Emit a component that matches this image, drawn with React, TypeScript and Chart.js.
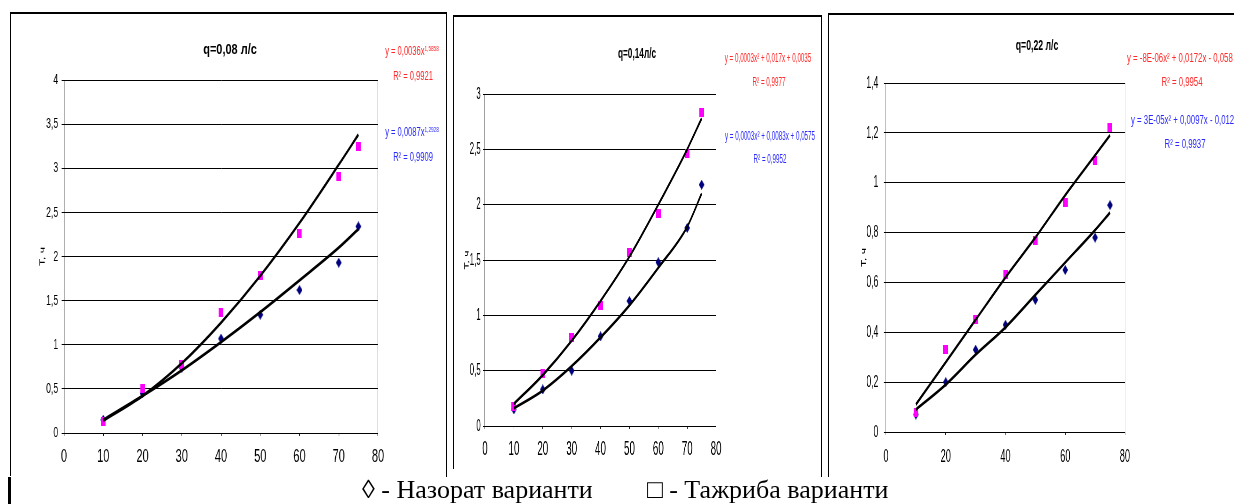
import React, { useEffect, useRef } from 'react';
import { Chart, registerables } from 'chart.js';

Chart.register(...registerables);

// ---------------- data ----------------
const X_VALUES = [10, 20, 30, 40, 50, 60, 70, 75];

// q = 0,08 l/s
const Q08_CONTROL = [0.15, 0.45, 0.74, 1.07, 1.34, 1.62, 1.93, 2.34];
const Q08_TRIAL = [0.13, 0.5, 0.78, 1.36, 1.78, 2.26, 2.91, 3.25];
const Q08_CONTROL_TREND = [0.15, 0.42, 0.71, 1.03, 1.37, 1.73, 2.1, 2.31];
const Q08_TRIAL_TREND = [0.14, 0.42, 0.79, 1.25, 1.78, 2.38, 3.04, 3.38];

// q = 0,14 l/s
const Q14_CONTROL = [0.15, 0.33, 0.5, 0.81, 1.13, 1.48, 1.79, 2.18];
const Q14_TRIAL = [0.18, 0.47, 0.8, 1.09, 1.57, 1.92, 2.46, 2.83];
const Q14_CONTROL_TREND = [0.16, 0.32, 0.54, 0.8, 1.09, 1.43, 1.8, 2.1];
const Q14_TRIAL_TREND = [0.2, 0.46, 0.77, 1.13, 1.53, 2.0, 2.5, 2.78];

// q = 0,22 l/s
const Q22_CONTROL = [0.07, 0.2, 0.33, 0.43, 0.53, 0.65, 0.78, 0.91];
const Q22_TRIAL = [0.08, 0.33, 0.45, 0.63, 0.77, 0.92, 1.09, 1.22];
const Q22_CONTROL_TREND = [0.09, 0.19, 0.31, 0.42, 0.55, 0.68, 0.81, 0.88];
const Q22_TRIAL_TREND = [0.11, 0.28, 0.45, 0.62, 0.78, 0.95, 1.11, 1.19];

// tick labels
const X_TICKS_10 = ['0', '10', '20', '30', '40', '50', '60', '70', '80'];
const X_TICKS_20 = ['0', '20', '40', '60', '80'];
const Y_TICKS_Q08 = ['0', '0,5', '1', '1,5', '2', '2,5', '3', '3,5', '4'];
const Y_TICKS_Q14 = ['0', '0,5', '1', '1,5', '2', '2,5', '3'];
const Y_TICKS_Q22 = ['0', '0,2', '0,4', '0,6', '0,8', '1', '1,2', '1,4'];

const TITLES = ['q=0,08 л/с', 'q=0,14л/с', 'q=0,22 л/с'];
const Y_TITLE = 'Т, ч';
const CAPTION_CONTROL = '◊ - Назорат варианти';
const CAPTION_TRIAL = '□ - Тажриба варианти';

// ---------------- styling ----------------
const FONT = '"Liberation Sans", Arial, sans-serif';
const PINK = '#ff00ff';
const NAVY = '#00007f';
const RED = '#ff2a2a';
const BLUE = '#2a2aff';

type PanelCfg = {
  s: number;
  cl: number; ct: number; cw: number; ch: number;
  al: number; ar: number; at: number; ab: number;
  yMax: number; yStep: number; xStep: number;
  yF: number; xF: number; xLabelCenter: number; yPad: number; yTitleX: number;
  xTicks: string[]; yTicks: string[];
  control: number[]; trial: number[]; controlTrend: number[]; trialTrend: number[];
};

const PANELS: PanelCfg[] = [
  {
    s: 0.58, cl: 11, ct: 14, cw: 435, ch: 462, al: 64, ar: 378, at: 80, ab: 433,
    yMax: 4, yStep: 0.5, xStep: 10, yF: 15, xF: 19, xLabelCenter: 457, yPad: 6, yTitleX: 43,
    xTicks: X_TICKS_10, yTicks: Y_TICKS_Q08,
    control: Q08_CONTROL, trial: Q08_TRIAL, controlTrend: Q08_CONTROL_TREND, trialTrend: Q08_TRIAL_TREND,
  },
  {
    s: 0.47, cl: 454, ct: 17, cw: 367, ch: 460, al: 485, ar: 716, at: 94, ab: 426,
    yMax: 3, yStep: 0.5, xStep: 10, yF: 17, xF: 21, xLabelCenter: 449, yPad: 5, yTitleX: 467,
    xTicks: X_TICKS_10, yTicks: Y_TICKS_Q14,
    control: Q14_CONTROL, trial: Q14_TRIAL, controlTrend: Q14_CONTROL_TREND, trialTrend: Q14_TRIAL_TREND,
  },
  {
    s: 0.51, cl: 829, ct: 15, cw: 405, ch: 462, al: 886, ar: 1125, at: 83, ab: 432,
    yMax: 1.4, yStep: 0.2, xStep: 20, yF: 17, xF: 18, xLabelCenter: 456.7, yPad: 11, yTitleX: 864,
    xTicks: X_TICKS_20, yTicks: Y_TICKS_Q22,
    control: Q22_CONTROL, trial: Q22_TRIAL, controlTrend: Q22_CONTROL_TREND, trialTrend: Q22_TRIAL_TREND,
  },
];

function makeRectMarker(w: number, h: number, color: string) {
  const c = document.createElement('canvas');
  c.width = Math.round(w);
  c.height = Math.round(h);
  const g = c.getContext('2d')!;
  g.fillStyle = color;
  g.fillRect(0, 0, c.width, c.height);
  return c;
}

function makeDiamondMarker(w: number, h: number, color: string) {
  const c = document.createElement('canvas');
  c.width = Math.round(w);
  c.height = Math.round(h);
  const g = c.getContext('2d')!;
  g.fillStyle = color;
  g.beginPath();
  g.moveTo(c.width / 2, 0);
  g.lineTo(c.width, c.height / 2);
  g.lineTo(c.width / 2, c.height);
  g.lineTo(0, c.height / 2);
  g.closePath();
  g.fill();
  return c;
}

function Panel({ cfg }: { cfg: PanelCfg }) {
  const ref = useRef<HTMLCanvasElement>(null);
  const preW = Math.round(cfg.cw / cfg.s);
  useEffect(() => {
    const canvas = ref.current!;
    const s = cfg.s;
    const yAxisW = (cfg.al - cfg.cl) / s;
    const rightPad = (cfg.cl + cfg.cw - cfg.ar) / s;
    const topPad = cfg.at - cfg.ct;
    const xAxisH = cfg.ct + cfg.ch - cfg.ab;
    const xTickLen = 3;
    const xLineH = cfg.xF * 1.2;
    const xPad = cfg.xLabelCenter - cfg.ab - xTickLen - xLineH / 2;
    const titleSize = 12;
    const titleOffset = (cfg.yTitleX - cfg.cl) / s;
    const titlePadTop = titleOffset - (titleSize * 1.2) / 2;

    const pts = (ys: number[]) => X_VALUES.map((x, i) => ({ x, y: ys[i] }));
    const square = makeRectMarker(4.8 / s, 9, PINK);
    const diamond = makeDiamondMarker(5.6 / s, 10, NAVY);

    const trendBase = {
      showLine: true,
      borderColor: '#000',
      borderWidth: 3,
      pointRadius: 0,
      tension: 0.4,
      cubicInterpolationMode: 'monotone' as const,
      fill: false,
      order: 0,
    };

    const chart = new Chart(canvas, {
      type: 'scatter',
      data: {
        datasets: [
          { ...trendBase, label: 'trial trend', data: pts(cfg.trialTrend) },
          { ...trendBase, label: 'control trend', data: pts(cfg.controlTrend) },
          { label: 'Тажриба варианти', data: pts(cfg.trial), pointStyle: square as any, pointRadius: 4, order: 1 },
          { label: 'Назорат варианти', data: pts(cfg.control), pointStyle: diamond as any, pointRadius: 4, order: 1 },
        ],
      },
      options: {
        responsive: false,
        animation: false,
        devicePixelRatio: 1,
        layout: { padding: { left: 0, top: topPad, right: rightPad, bottom: 0 } },
        plugins: { legend: { display: false }, tooltip: { enabled: false }, title: { display: false } },
        scales: {
          x: {
            type: 'linear',
            min: 0,
            max: 80,
            ticks: {
              stepSize: cfg.xStep,
              autoSkip: false,
              maxRotation: 0,
              color: '#000',
              padding: xPad,
              font: { family: FONT, size: cfg.xF },
              callback: (_v: any, i: number) => cfg.xTicks[i],
            },
            grid: {
              drawOnChartArea: true,
              color: (ctx: any) => (ctx.tick && ctx.tick.value === 80 ? '#a8a8a8' : 'rgba(0,0,0,0)'),
              tickColor: '#000',
              tickLength: xTickLen,
              lineWidth: 1,
            },
            border: { color: '#000', width: 1 },
            afterFit: (sc: any) => { sc.height = xAxisH; },
          },
          y: {
            type: 'linear',
            min: 0,
            max: cfg.yMax,
            ticks: {
              stepSize: cfg.yStep,
              autoSkip: false,
              color: '#000',
              padding: cfg.yPad,
              font: { family: FONT, size: cfg.yF },
              callback: (_v: any, i: number) => cfg.yTicks[i],
            },
            grid: { color: '#000', tickColor: '#000', tickLength: 4, lineWidth: 1 },
            border: { color: '#000', width: 1 },
            title: {
              display: true,
              text: Y_TITLE,
              color: '#000',
              font: { family: FONT, size: titleSize },
              padding: { top: titlePadTop, bottom: 0 },
            },
            afterFit: (sc: any) => { sc.width = yAxisW; },
          },
        },
      },
    } as any);
    return () => chart.destroy();
  }, [cfg]);

  return (
    <div
      style={{
        position: 'absolute',
        left: cfg.cl,
        top: cfg.ct,
        width: preW,
        height: cfg.ch,
        transformOrigin: '0 0',
        transform: `scaleX(${cfg.s})`,
      }}
    >
      <canvas ref={ref} width={preW} height={cfg.ch} style={{ display: 'block' }} />
    </div>
  );
}

type TxtProps = {
  x: number; top: number; size: number; sx: number;
  color?: string; bold?: boolean; anchor?: 'center' | 'left'; children: React.ReactNode;
};

function Txt({ x, top, size, sx, color = '#000', bold = false, anchor = 'center', children }: TxtProps) {
  return (
    <div
      style={{
        position: 'absolute',
        left: x,
        top,
        fontFamily: FONT,
        fontSize: size,
        lineHeight: 1,
        color,
        fontWeight: bold ? 700 : 400,
        whiteSpace: 'nowrap',
        transformOrigin: anchor === 'center' ? '50% 0' : '0 0',
        transform: anchor === 'center' ? `translateX(-50%) scaleX(${sx})` : `scaleX(${sx})`,
      }}
    >
      {children}
    </div>
  );
}

const Sup = ({ children }: { children: React.ReactNode }) => (
  <span style={{ fontSize: '0.62em', position: 'relative', top: '-0.55em' }}>{children}</span>
);

const line = (l: number, t: number, w: number, h: number) => (
  <div style={{ position: 'absolute', left: l, top: t, width: w, height: h, background: '#000' }} />
);

export default function App() {
  return (
    <div
      style={{
        position: 'fixed',
        left: 0,
        top: 0,
        width: 1234,
        height: 504,
        overflow: 'hidden',
        background: '#fff',
      }}
    >
      {PANELS.map((p, i) => (
        <Panel key={i} cfg={p} />
      ))}

      {/* panel frames */}
      {line(10, 12, 437, 2)}
      {line(10, 12, 1, 464)}
      {line(446, 12, 1, 465)}
      {line(453, 15, 369, 2)}
      {line(453, 15, 1, 454)}
      {line(821, 15, 1, 462)}
      {line(828, 13, 406, 2)}
      {line(828, 13, 1, 464)}
      {line(8, 477, 3, 27)}

      {/* titles */}
      <Txt x={230} top={41.3} size={15} sx={0.73} bold>{TITLES[0]}</Txt>
      <Txt x={636.7} top={44.6} size={15} sx={0.55} bold>{TITLES[1]}</Txt>
      <Txt x={1036.7} top={37.3} size={15} sx={0.58} bold>{TITLES[2]}</Txt>

      {/* trend equations, panel 1 */}
      <Txt x={412} top={44.8} size={12} sx={0.63} color={RED}>y = 0,0036x<Sup>1,5858</Sup></Txt>
      <Txt x={412.5} top={69.8} size={12} sx={0.63} color={RED}>R² = 0,9921</Txt>
      <Txt x={412} top={126.3} size={12} sx={0.63} color={BLUE}>y = 0,0087x<Sup>1,2928</Sup></Txt>
      <Txt x={412.5} top={150.8} size={12} sx={0.63} color={BLUE}>R² = 0,9909</Txt>

      {/* panel 2 */}
      <Txt x={768} top={50.5} size={13} sx={0.48} color={RED}>y = 0,0003x² + 0,017x + 0,0035</Txt>
      <Txt x={769} top={75} size={13} sx={0.48} color={RED}>R² = 0,9977</Txt>
      <Txt x={770} top={129} size={13} sx={0.48} color={BLUE}>y = 0,0003x² + 0,0083x + 0,0575</Txt>
      <Txt x={770} top={152} size={13} sx={0.48} color={BLUE}>R² = 0,9952</Txt>

      {/* panel 3 */}
      <Txt x={1126.7} top={50.7} size={13} sx={0.6} color={RED} anchor="left">y = -8E-06x² + 0,0172x - 0,058</Txt>
      <Txt x={1182} top={75} size={13} sx={0.6} color={RED}>R² = 0,9954</Txt>
      <Txt x={1131} top={112.5} size={13} sx={0.6} color={BLUE} anchor="left">y = 3E-05x² + 0,0097x - 0,012</Txt>
      <Txt x={1185} top={137} size={13} sx={0.6} color={BLUE}>R² = 0,9937</Txt>

      {/* caption */}
      <div
        style={{
          position: 'absolute',
          left: 362,
          top: 477,
          fontFamily: '"Liberation Serif", "Times New Roman", serif',
          fontSize: 26,
          lineHeight: 1,
          whiteSpace: 'nowrap',
          color: '#000',
        }}
      >
        {CAPTION_CONTROL}
      </div>
      <div
        style={{
          position: 'absolute',
          left: 647,
          top: 477,
          fontFamily: '"Liberation Serif", "Times New Roman", serif',
          fontSize: 26,
          lineHeight: 1,
          whiteSpace: 'nowrap',
          color: '#000',
        }}
      >
        {CAPTION_TRIAL}
      </div>
    </div>
  );
}
